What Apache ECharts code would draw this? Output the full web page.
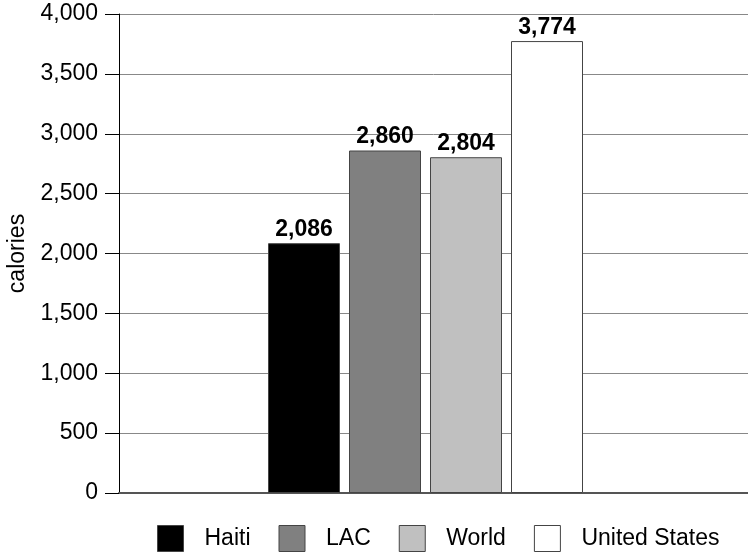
<!DOCTYPE html>
<html>
<head>
<meta charset="utf-8">
<script src="https://cdn.jsdelivr.net/npm/echarts@6/dist/echarts.min.js"></script>
<style>html,body{margin:0;padding:0;background:#fff;}#c{width:748px;height:554px;}</style>
</head>
<body>
<div id="c"></div>
<script>
const titleText = 'Average Daily Calorie Intake per Capita, 2003-2005';
const categories = ['Calories'];
const seriesNames = ['Haiti', 'LAC', 'World', 'United States'];
const seriesValues = [2086, 2860, 2804, 3774];
const seriesColors = ['#000000', '#808080', '#c0c0c0', '#ffffff'];
const yTicks = [0, 500, 1000, 1500, 2000, 2500, 3000, 3500, 4000];

const chart = echarts.init(document.getElementById('c'), null, {renderer: 'canvas'});
const fmt = v => Number(v).toLocaleString('en-US');
const font = 'Liberation Sans, Arial, sans-serif';
const yMin = yTicks[0], yMax = yTicks[yTicks.length - 1];

chart.setOption({
  animation: false,
  backgroundColor: '#ffffff',
  title: {
    text: titleText,
    left: 'center',
    top: -29,
    textStyle: {fontFamily: font, fontSize: 24, fontWeight: 'bold', color: '#000'}
  },
  grid: [
    {left: 119, right: 0, top: 14, bottom: 61, containLabel: false, outerBoundsMode: 'none'},
    {left: 119, right: 16, top: 14, bottom: 61, containLabel: false, outerBoundsMode: 'none'}
  ],
  legend: {
    bottom: -3,
    left: 152,
    itemWidth: 26,
    itemHeight: 26,
    itemGap: 28,
    icon: 'rect',
    data: seriesNames.map((n, i) => ({
      name: n,
      itemStyle: {color: seriesColors[i], borderColor: '#444', borderWidth: 1}
    })),
    textStyle: {fontFamily: font, fontSize: 23, color: '#000', padding: [0, 0, 0, 16]}
  },
  xAxis: [
    {
      gridIndex: 0,
      type: 'category',
      data: categories,
      axisLine: {show: true, lineStyle: {color: '#555', width: 2}},
      axisTick: {show: false},
      axisLabel: {show: false}
    },
    {
      gridIndex: 1,
      type: 'category',
      data: categories,
      axisLine: {show: false},
      axisTick: {show: false},
      axisLabel: {show: false}
    }
  ],
  yAxis: [
    {
      gridIndex: 0,
      type: 'value',
      min: yMin,
      max: yMax,
      interval: 500,
      name: 'calories',
      nameLocation: 'middle',
      nameGap: 89,
      nameTextStyle: {fontFamily: font, fontSize: 23, color: '#000'},
      axisLine: {show: true, lineStyle: {color: '#000', width: 1}},
      axisTick: {show: true, inside: false, length: 14, lineStyle: {color: '#000'}},
      axisLabel: {fontFamily: font, fontSize: 23, color: '#000', margin: 21, formatter: fmt},
      splitLine: {show: true, lineStyle: {color: '#888', width: 1}}
    },
    {
      gridIndex: 1,
      type: 'value',
      min: yMin,
      max: yMax,
      interval: 500,
      axisLine: {show: false},
      axisTick: {show: false},
      axisLabel: {show: false},
      splitLine: {show: false}
    }
  ],
  series: seriesNames.map((name, i) => ({
    name: name,
    type: 'bar',
    xAxisIndex: 1,
    yAxisIndex: 1,
    data: [seriesValues[i]],
    barWidth: 72,
    barGap: '12.5%',
    itemStyle: {color: seriesColors[i], borderColor: '#444', borderWidth: 1},
    label: {
      show: true,
      position: 'top',
      distance: 2,
      formatter: p => fmt(p.value),
      fontFamily: font,
      fontSize: 23,
      fontWeight: 'bold',
      color: '#000'
    }
  }))
});
</script>
</body>
</html>
